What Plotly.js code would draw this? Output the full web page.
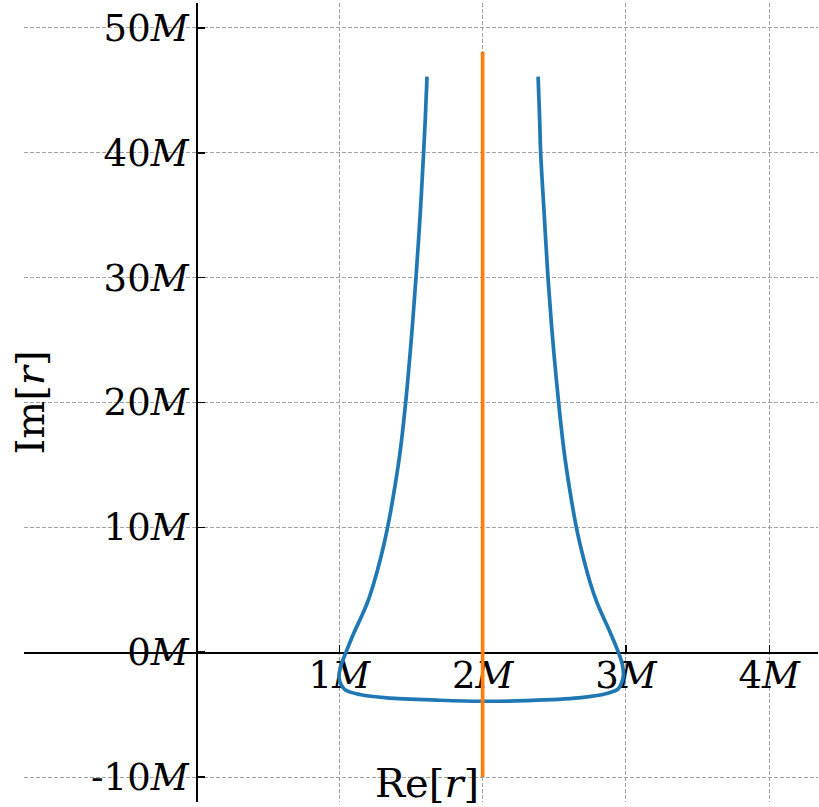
<!DOCTYPE html>
<html>
<head>
<meta charset="utf-8">
<script src="https://cdn.plot.ly/plotly-3.0.1.min.js"></script>
<style>
  html, body { margin: 0; padding: 0; background: #fff; }
  #plot { width: 819px; height: 807px; }
</style>
</head>
<body>
<div id="plot"></div>
<script>
// Contour in the complex r plane (units of M): Re[r] and Im[r]
const contourRe = [1.612, 1.601, 1.588, 1.564, 1.535, 1.509, 1.487, 1.463, 1.426, 1.384, 1.337, 1.290, 1.240, 1.197, 1.152, 1.100, 1.047, 1.008, 0.998, 1.012, 1.045, 1.144, 1.331, 1.703, 2.000,
                   2.300, 2.669, 2.866, 2.945, 2.968, 2.982, 2.975, 2.947, 2.893, 2.842, 2.797, 2.752, 2.702, 2.654, 2.608, 2.567, 2.530, 2.505, 2.482, 2.456, 2.430, 2.405, 2.397, 2.387];
const contourIm = [46.1, 43.0, 40.0, 35.0, 30.0, 26.0, 23.0, 20.0, 16.2, 13.0, 10.0, 7.6, 5.5, 4.0, 2.8, 1.5, 0.0, -1.2, -2.0, -2.6, -3.05, -3.39, -3.66, -3.85, -3.93,
                   -3.88, -3.66, -3.31, -2.95, -2.5, -1.9, -1.0, 0.0, 1.5, 2.8, 4.0, 5.5, 7.6, 10.0, 13.0, 16.2, 20.0, 23.0, 26.0, 30.0, 35.0, 40.0, 43.0, 46.1];

// Vertical line Re[r] = 2M
const lineRe = [2, 2];
const lineIm = [-10, 48.1];

// Tick positions and labels
const xTickVals = [1, 2, 3, 4];
const xTickText = ['1<i>M</i>', '2<i>M</i>', '3<i>M</i>', '4<i>M</i>'];
const yTickVals = [-10, 0, 10, 20, 30, 40, 50];
const yTickText = ['-10<i>M</i>', '0<i>M</i>', '10<i>M</i>', '20<i>M</i>', '30<i>M</i>', '40<i>M</i>', '50<i>M</i>'];

const xRange = [-1.2, 4.34];
const yRange = [-12, 52];

const serif = 'DejaVu Serif, Liberation Serif, serif';

const traces = [
  {
    x: contourRe, y: contourIm, type: 'scatter', mode: 'lines',
    line: { color: '#1f77b4', width: 3.7, shape: 'spline', smoothing: 1 },
    hoverinfo: 'skip'
  },
  {
    x: lineRe, y: lineIm, type: 'scatter', mode: 'lines',
    line: { color: '#ff7f0e', width: 3.7 },
    hoverinfo: 'skip'
  }
];

// Axes cross at the origin: each axis line is placed at the other axis' zero
const axisCommon = {
  showline: true, linecolor: '#000', linewidth: 1.6,
  ticks: 'inside', ticklen: 7, tickwidth: 1.4, tickcolor: '#000',
  showgrid: true, gridcolor: '#a0a0a0', gridwidth: 1, griddash: '4px,2px',
  zeroline: false, tickmode: 'array',
  tickfont: { family: serif, size: 37, color: '#000' },
  layer: 'below traces', fixedrange: true
};

const layout = {
  width: 819, height: 807,
  margin: { l: 24, r: 1, t: 3, b: 5 },
  paper_bgcolor: '#fff', plot_bgcolor: '#fff',
  showlegend: false,
  xaxis: Object.assign({}, axisCommon, {
    range: xRange, tickvals: xTickVals, ticktext: xTickText,
    ticklabelstandoff: -10,
    anchor: 'free', position: (0 - yRange[0]) / (yRange[1] - yRange[0])
  }),
  yaxis: Object.assign({}, axisCommon, {
    range: yRange, tickvals: yTickVals, ticktext: yTickText,
    anchor: 'free', position: (0 - xRange[0]) / (xRange[1] - xRange[0])
  }),
  annotations: [
    {
      text: 'Re[<i>r</i>]', xref: 'paper', yref: 'paper', x: 0.5, y: 0.0,
      xanchor: 'center', yanchor: 'bottom', yshift: -6, xshift: 6, showarrow: false,
      font: { family: serif, size: 40, color: '#000' }
    },
    {
      text: 'Im[<i>r</i>]', xref: 'paper', yref: 'paper', x: 0.0, y: 0.5,
      xanchor: 'left', yanchor: 'middle', xshift: -20, textangle: -90, showarrow: false,
      font: { family: serif, size: 40, color: '#000' }
    }
  ]
};

Plotly.newPlot('plot', traces, layout, { displayModeBar: false, staticPlot: true });
</script>
</body>
</html>
